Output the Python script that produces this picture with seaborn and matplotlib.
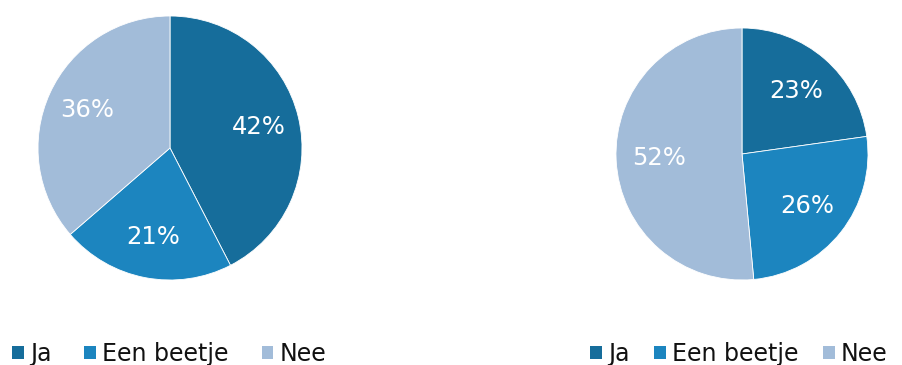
import matplotlib
matplotlib.use("Agg")
import matplotlib.pyplot as plt
import seaborn as sns
import numpy as np
from matplotlib.patches import Patch

sns.set_theme(style="white")
plt.rcParams['font.family'] = ['DejaVu Sans']

categories = ["Ja", "Een beetje", "Nee"]
left_values = [42, 21, 36]
left_labels = ["42%", "21%", "36%"]
right_values = [23, 26, 52]
right_labels = ["23%", "26%", "52%"]
colors = ["#166d9b", "#1c85bf", "#a2bcd9"]

W, H = 902, 365
fig = plt.figure(figsize=(W / 100, H / 100), dpi=100)
fig.patch.set_facecolor("white")


def draw(ax, values, labels, pctd):
    ax.pie(values, colors=colors, startangle=90, counterclock=False,
           wedgeprops=dict(linewidth=0.6, edgecolor="#ffffff"))
    total = sum(values)
    ang = 90.0
    for v, lab in zip(values, labels):
        span = 360.0 * v / total
        mid = np.deg2rad(ang - span / 2)
        ax.text(pctd * np.cos(mid), pctd * np.sin(mid), lab, ha="center", va="center",
                color="white", fontsize=17.5)
        ang -= span
    ax.set_xlim(-1, 1)
    ax.set_ylim(-1, 1)
    ax.set_aspect("equal")
    ax.axis("off")


ax1 = fig.add_axes([38 / W, (H - 280) / H, 264 / W, 264 / H])
draw(ax1, left_values, left_labels, 0.69)
ax2 = fig.add_axes([616 / W, (H - 280) / H, 252 / W, 252 / H])
draw(ax2, right_values, right_labels, 0.66)

handles = [Patch(facecolor=c, edgecolor="none") for c in colors]
for x0, sp in [(12, 1.4), (590, 1.05)]:
    fig.legend(handles, categories, loc="center left",
               bbox_to_anchor=(x0 / W, 1 - 354 / H), ncol=3, frameon=False,
               fontsize=17, handlelength=0.5, handleheight=0.5, handletextpad=0.25,
               columnspacing=sp, borderaxespad=0, borderpad=0, labelcolor="#111111")

fig.savefig("out.png", dpi=100, facecolor="white")
